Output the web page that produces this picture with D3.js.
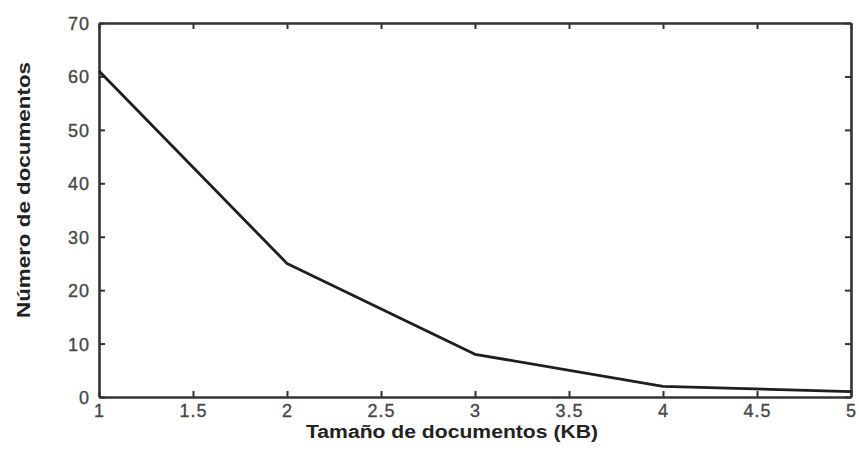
<!DOCTYPE html>
<html>
<head>
<meta charset="utf-8">
<script src="https://cdn.jsdelivr.net/npm/d3@7"></script>
<style>
  html, body { margin: 0; padding: 0; background: #fff; }
  svg { display: block; }
  .tick text { font-family: Arial, "Liberation Sans", Helvetica, sans-serif; font-size: 18px; fill: #474747; letter-spacing: 1px; stroke: #474747; stroke-width: 0.35px; }
  .title { font-family: Arial, "Liberation Sans", Helvetica, sans-serif; font-weight: bold; font-size: 18px; fill: #222; }
</style>
</head>
<body>
<svg id="chart" width="859" height="453"></svg>
<script>
// Document size (KB) vs. number of documents
const sizesKB = [1, 2, 3, 4, 5];
const docCounts = [61, 25, 8, 2, 1];
const xTicks = [1, 1.5, 2, 2.5, 3, 3.5, 4, 4.5, 5];
const yTicks = [0, 10, 20, 30, 40, 50, 60, 70];
const xTitle = "Tamaño de documentos (KB)";
const yTitle = "Número de documentos";

const svg = d3.select("#chart");
const plotLeft = 99, plotRight = 851, plotTop = 23, plotBottom = 397;

const x = d3.scaleLinear().domain([1, 5]).range([plotLeft, plotRight]);
const y = d3.scaleLinear().domain([0, 70]).range([plotBottom, plotTop]);

const axisColor = "#333";
const fmt = d => String(d);

// bottom axis with inward ticks and labels
const gB = svg.append("g").attr("transform", `translate(0,${plotBottom})`)
  .call(d3.axisBottom(x).tickValues(xTicks).tickFormat(fmt).tickSizeInner(-6).tickSizeOuter(0).tickPadding(10));
// top axis, ticks only
const gT = svg.append("g").attr("transform", `translate(0,${plotTop})`)
  .call(d3.axisTop(x).tickValues(xTicks).tickFormat("").tickSizeInner(-6).tickSizeOuter(0));
// left axis with labels
const gL = svg.append("g").attr("transform", `translate(${plotLeft},0)`)
  .call(d3.axisLeft(y).tickValues(yTicks).tickFormat(fmt).tickSizeInner(-6).tickSizeOuter(0).tickPadding(9));
// right axis, ticks only
const gR = svg.append("g").attr("transform", `translate(${plotRight},0)`)
  .call(d3.axisRight(y).tickValues(yTicks).tickFormat("").tickSizeInner(-6).tickSizeOuter(0));

[gB, gT, gL, gR].forEach(g => {
  g.select(".domain").attr("stroke", axisColor).attr("stroke-width", 2.6);
  g.selectAll(".tick line").attr("stroke", axisColor).attr("stroke-width", 2);
});
gB.selectAll(".tick text").attr("dy", "0.72em").attr("y", 7);
gL.selectAll(".tick text").attr("dy", "0.36em");

// data line
const line = d3.line().x((d, i) => x(sizesKB[i])).y(d => y(d));
svg.append("path")
  .datum(docCounts)
  .attr("fill", "none")
  .attr("stroke", "#1e1e1e")
  .attr("stroke-width", 2.8)
  .attr("stroke-linejoin", "round")
  .attr("d", line);

// axis titles
svg.append("text").attr("class", "title")
  .attr("x", 452).attr("y", 438)
  .attr("text-anchor", "middle")
  .attr("textLength", 292).attr("lengthAdjust", "spacingAndGlyphs")
  .text(xTitle);

svg.append("text").attr("class", "title")
  .attr("transform", "translate(30,190) rotate(-90)")
  .attr("text-anchor", "middle")
  .attr("textLength", 256).attr("lengthAdjust", "spacingAndGlyphs")
  .text(yTitle);
</script>
</body>
</html>
